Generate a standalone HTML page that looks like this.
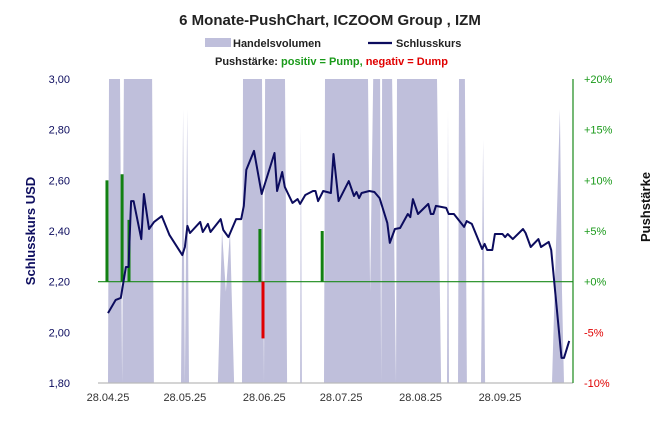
<!DOCTYPE html>
<html><head><meta charset="utf-8"><style>
body{margin:0;background:#fff;font-family:"Liberation Sans",sans-serif}
svg{display:block}
</style></head><body>
<svg id="chart" width="661" height="430" viewBox="0 0 661 430" xmlns="http://www.w3.org/2000/svg" font-family="Liberation Sans, sans-serif">
<text x="330" y="25" text-anchor="middle" font-size="15" font-weight="bold" fill="#222">6 Monate-PushChart, ICZOOM Group , IZM</text>
<g>
<rect x="205" y="38" width="26" height="9" fill="#bfbfdb"/>
<text x="233" y="47" font-size="11" font-weight="bold" fill="#222">Handelsvolumen</text>
<line x1="368" y1="43" x2="392" y2="43" stroke="#0c0c5e" stroke-width="2.2"/>
<text x="396" y="47" font-size="11" font-weight="bold" fill="#222">Schlusskurs</text>
<text x="215" y="65" font-size="11" font-weight="bold"><tspan fill="#222">Pushstärke:  </tspan><tspan fill="#1a9a1a">positiv = Pump,</tspan><tspan fill="#e00000">  negativ = Dump</tspan></text>
</g>
<text transform="translate(35,231) rotate(-90)" text-anchor="middle" font-size="13" font-weight="bold" fill="#0c0c5e">Schlusskurs USD</text>
<text transform="translate(650,207) rotate(-90)" text-anchor="middle" font-size="13" font-weight="bold" fill="#111">Pushstärke</text>
<g id="plot"></g>
</svg>
<script>
const priceDays=[0,3,5,7,8,9,10,13,14,16,18,21,24,29,30,31,32,36,37,39,40,44,45,47,50,52,53,54,57,60,65,66,68,69,72,74,75,77,80,81,82,84,87,88,90,94,96,97,98,99,102,104,106,109,110,112,114,117,118,119,121,125,126,127,128,132,133,135,139,140,142,146,147,148,150,151,154,155,156,158,162,163,165,168,169,172,173,177,178,180];
const prices=[2.076,2.128,2.136,2.258,2.258,2.518,2.518,2.368,2.546,2.408,2.436,2.459,2.384,2.305,2.337,2.420,2.392,2.436,2.396,2.428,2.396,2.447,2.404,2.376,2.447,2.447,2.499,2.641,2.716,2.546,2.708,2.558,2.633,2.574,2.511,2.526,2.507,2.542,2.558,2.558,2.518,2.558,2.550,2.704,2.518,2.597,2.538,2.554,2.530,2.550,2.558,2.554,2.530,2.432,2.353,2.408,2.412,2.467,2.455,2.526,2.467,2.507,2.467,2.467,2.499,2.491,2.467,2.467,2.416,2.439,2.428,2.329,2.349,2.325,2.325,2.388,2.388,2.376,2.388,2.368,2.408,2.392,2.337,2.368,2.337,2.357,2.325,1.899,1.899,1.966];
const volDays=[0,0.4,4.7,5.5,6.2,17.2,17.9,28.5,29.3,30.0,30.9,31.6,42.9,44.5,46.0,47.6,49.2,52.3,52.7,60.1,60.9,61.3,69.1,69.9,75,75.3,75.7,84.3,84.7,101.5,102.3,103.5,106.2,106.6,107,110.9,112.4,112.8,128.4,130,132.3,132.7,133.1,136.6,137,139.3,140.1,145.6,146.4,147.2,173.3,176.4,177.2,178];
const volumes=[0,300,300,0,300,300,0,0,90,0,90,0,0,50,30,50,0,0,300,300,0,300,300,0,0,85,0,0,300,300,30,300,300,0,300,300,0,300,300,0,0,90,0,0,300,300,0,0,80,0,0,90,30,0];
const volMax=100;
const pushDays=[-0.4,5.5,8.2,59.3,60.5,83.6];
const pushVals=[10,10.6,6.1,5.2,-5.6,5];
const priceTicks=["3,00","2,80","2,60","2,40","2,20","2,00","1,80"];
const pushTicks=["+20%","+15%","+10%","+5%","+0%","-5%","-10%"];
const dateLabels=["28.04.25","28.05.25","28.06.25","28.07.25","28.08.25","28.09.25"];
const dateLabelDays=[0,30,61,91,122,153];

const L=98,R=573,T=79,B=383;
const xS=d=>108+d*2.562;
const yP=p=>B-(p-1.8)/1.2*(B-T);
const yPush=v=>B-(v+10)/30*(B-T);
const yV=v=>B-Math.min(v,volMax)/volMax*(B-T);
const NS="http://www.w3.org/2000/svg";
const plot=document.getElementById('plot');
function mk(tag,attrs,parent){const e=document.createElementNS(NS,tag);for(const k in attrs)e.setAttribute(k,attrs[k]);(parent||plot).appendChild(e);return e;}

let vp=`M${xS(volDays[0])},${B}`;
volDays.forEach((d,i)=>{vp+=` L${xS(d).toFixed(1)},${yV(volumes[i]).toFixed(1)}`;});
vp+=` L${xS(volDays[volDays.length-1])},${B} Z`;
const va=mk('path',{d:vp,fill:'#bfbfdb'});



const xa=mk('line',{x1:L,y1:B,x2:R,y2:B,stroke:'#bbb','stroke-width':1.2});


const ra=mk('line',{x1:R,y1:T,x2:R,y2:B,stroke:'#1a8a1a','stroke-width':1.2});


const zl=mk('line',{x1:L,y1:yPush(0),x2:R,y2:yPush(0),stroke:'#1a8a1a','stroke-width':1.2});



priceTicks.forEach((t,i)=>{
  const y=T+i*(B-T)/6;
  const e=mk('text',{x:70,y:y+4,'text-anchor':'end','font-size':11,fill:'#0c0c5e'});e.textContent=t;
  
  
  const e2=mk('text',{x:584,y:y+4,'font-size':11,fill:pushTicks[i][0]=='-'?'#e00000':'#1a9a1a'});e2.textContent=pushTicks[i];
  
  
});
dateLabels.forEach((t,i)=>{
  const e=mk('text',{x:xS(dateLabelDays[i]),y:401,'text-anchor':'middle','font-size':11,fill:'#333'});e.textContent=t;
  
  
});

pushDays.forEach((d,i)=>{
  const v=pushVals[i],y0=yPush(0),y1=yPush(v);
  const b=mk('rect',{x:xS(d)-1.5,y:Math.min(y0,y1),width:3,height:Math.abs(y1-y0),fill:v>=0?'#128012':'#e00000'});
  
  
});

const pl=mk('polyline',{points:priceDays.map((d,i)=>xS(d).toFixed(1)+','+yP(prices[i]).toFixed(1)).join(' '),fill:'none',stroke:'#0c0c5e','stroke-width':2,'stroke-linejoin':'round'});


</script>
</body></html>
